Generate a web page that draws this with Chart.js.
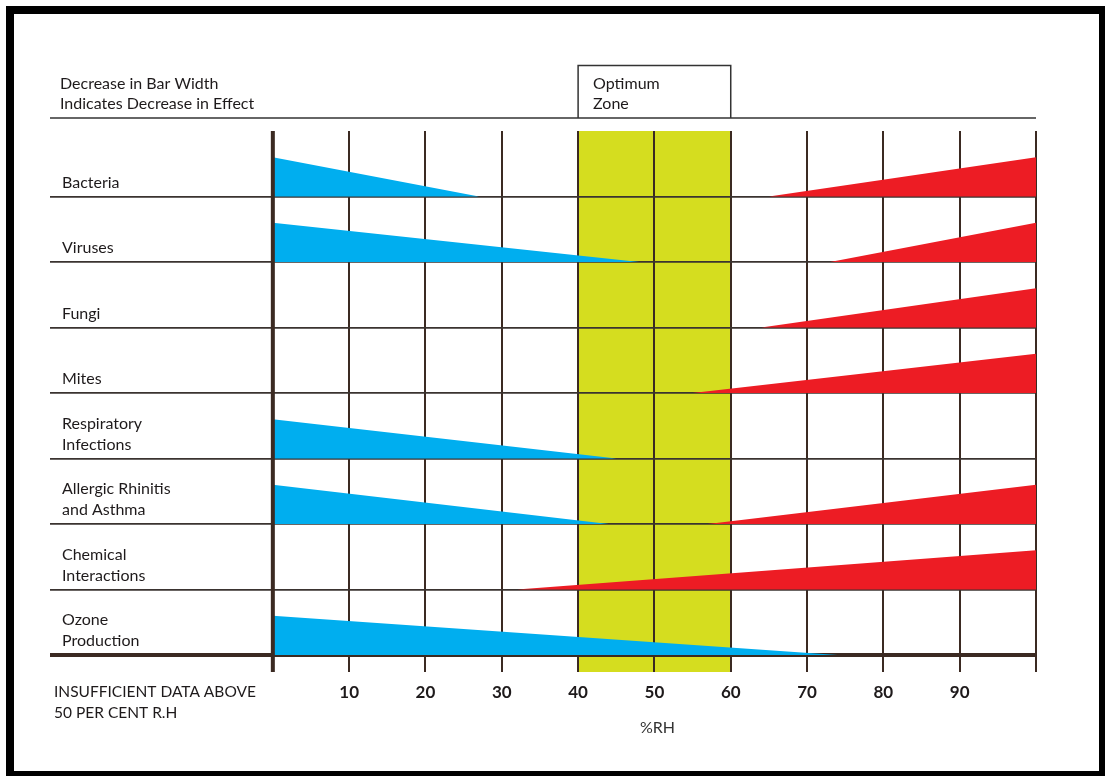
<!DOCTYPE html>
<html>
<head>
<meta charset="utf-8">
<script src="https://cdn.jsdelivr.net/npm/chart.js@4/dist/chart.umd.min.js"></script>
<style>
  html, body { margin: 0; padding: 0; background: #fff; }
  #wrap { position: relative; width: 1105px; height: 776px; }
  canvas { display: block; }
</style>
</head>
<body>
<div id="wrap"><canvas id="c" width="1105" height="776"></canvas></div>
<script>
// ---- data ----
const categories = ['Bacteria', 'Viruses', 'Fungi', 'Mites', 'Respiratory\nInfections',
  'Allergic Rhinitis\nand Asthma', 'Chemical\nInteractions', 'Ozone\nProduction'];
// RH (%) at which the low-humidity effect (blue) fades out
const lowEffectEnd = [27, 48, null, null, 45, 44, null, 74];
// RH (%) at which the high-humidity effect (red) begins
const highEffectStart = [65, 73, 64, 55, null, 57, 32, null];
const maxEffect = 0.6;           // full bar width, in row units
const tickValues = [0, 10, 20, 30, 40, 50, 60, 70, 80, 90, 100];
const tickLabels = ['', '10', '20', '30', '40', '50', '60', '70', '80', '90', ''];
const optimumZone = [40, 60];
const rowLines = [0, 1, 2, 3, 4, 5, 6, 7, 8];

const FONT = 'Lato, "Open Sans", sans-serif';
const INK = '#1e1a1b';
const GRID = '#3b2a22';
const BLUE = '#00aeef';
const RED = '#ed1c24';
const YELLOW = '#d5dd1f';

const nRows = categories.length;
const datasets = [];
categories.forEach((cat, i) => {
  const base = nRows - 1 - i;
  if (lowEffectEnd[i] != null) {
    datasets.push({
      label: cat + ' (low RH)',
      data: [{x: 0, y: base + maxEffect}, {x: lowEffectEnd[i], y: base}],
      backgroundColor: BLUE, borderWidth: 0, pointRadius: 0,
      fill: {value: base}, tension: 0
    });
  }
  if (highEffectStart[i] != null) {
    datasets.push({
      label: cat + ' (high RH)',
      data: [{x: highEffectStart[i], y: base}, {x: 100, y: base + maxEffect}],
      backgroundColor: RED, borderWidth: 0, pointRadius: 0,
      fill: {value: base}, tension: 0
    });
  }
});

const decor = {
  id: 'decor',
  beforeDraw(chart) {
    const {ctx, scales: {x, y}, chartArea: a} = chart;
    ctx.save();
    // optimum zone band
    const x0 = x.getPixelForValue(optimumZone[0]);
    const x1 = x.getPixelForValue(optimumZone[1]);
    ctx.fillStyle = YELLOW;
    ctx.fillRect(x0, a.top, x1 - x0, a.bottom - a.top + 17);
    // frame
    ctx.strokeStyle = '#000';
    ctx.lineWidth = 8;
    ctx.strokeRect(10, 10, 1093, 765);
    ctx.restore();
  },
  afterDatasetsDraw(chart) {
    const {ctx, scales: {x, y}, chartArea: a} = chart;
    ctx.save();
    // left axis line at 0 %RH
    const x0 = x.getPixelForValue(0);
    ctx.strokeStyle = GRID;
    ctx.lineWidth = 4;
    ctx.beginPath();
    ctx.moveTo(x0, a.top);
    ctx.lineTo(x0, a.bottom + 17);
    ctx.stroke();
    ctx.restore();
  },
  afterDraw(chart) {
    const {ctx, scales: {x, y}, chartArea: a} = chart;
    ctx.save();
    // header line
    const hy = y.getPixelForValue(8.2);
    ctx.strokeStyle = '#333';
    ctx.lineWidth = 1.5;
    ctx.beginPath();
    ctx.moveTo(a.left, hy);
    ctx.lineTo(a.right, hy);
    ctx.stroke();
    // optimum zone box
    const zx0 = x.getPixelForValue(optimumZone[0]);
    const zx1 = x.getPixelForValue(optimumZone[1]);
    const top = y.getPixelForValue(9);
    ctx.strokeStyle = '#333';
    ctx.lineWidth = 1.5;
    ctx.beginPath();
    ctx.moveTo(zx0, hy);
    ctx.lineTo(zx0, top);
    ctx.lineTo(zx1, top);
    ctx.lineTo(zx1, hy);
    ctx.stroke();

    ctx.fillStyle = INK;
    ctx.textBaseline = 'middle';
    ctx.textAlign = 'left';
    ctx.font = '16px ' + FONT;
    ctx.fillText('Decrease in Bar Width', 60, hy - 34);
    ctx.fillText('Indicates Decrease in Effect', 60, hy - 14);
    ctx.fillText('Optimum', zx0 + 15, hy - 34);
    ctx.fillText('Zone', zx0 + 15, hy - 14);

    // row labels
    categories.forEach((cat, i) => {
      const base = nRows - 1 - i;
      const lines = cat.split('\n');
      const by = y.getPixelForValue(base) - 14;
      lines.forEach((ln, k) => {
        ctx.fillText(ln, 62, by - (lines.length - 1 - k) * 21);
      });
    });

    // bottom-left note
    ctx.font = '15.5px ' + FONT;
    ctx.fillText('INSUFFICIENT DATA ABOVE', 54, 692);
    ctx.fillText('50 PER CENT R.H', 54, 713);

    // axis title
    ctx.textAlign = 'center';
    ctx.font = '16px ' + FONT;
    ctx.fillStyle = '#333';
    ctx.fillText('%RH', x.getPixelForValue(50) + 3, 728);
    ctx.restore();
  }
};

new Chart(document.getElementById('c'), {
  type: 'line',
  data: {datasets},
  plugins: [decor],
  options: {
    responsive: false,
    animation: false,
    devicePixelRatio: 1,
    layout: {padding: {left: 50, right: 69, top: 131, bottom: 0}},
    plugins: {legend: {display: false}, tooltip: {enabled: false}},
    elements: {line: {borderWidth: 0}},
    scales: {
      x: {
        type: 'linear',
        min: -29.2, max: 100,
        afterBuildTicks: s => { s.ticks = tickValues.map(v => ({value: v})); },
        afterFit: s => { s.height = 121; },
        border: {display: false},
        grid: {
          drawOnChartArea: true, drawTicks: true, tickLength: 17,
          color: c => (c.tick && c.tick.value === 0) ? 'rgba(0,0,0,0)' : GRID,
          lineWidth: 2
        },
        ticks: {
          autoSkip: false, maxRotation: 0, padding: 10,
          color: INK,
          font: {family: FONT, size: 17, weight: 'bold'},
          callback: (v, i) => tickLabels[tickValues.indexOf(v)] ?? ''
        }
      },
      y: {
        type: 'linear',
        min: 0, max: 8,
        z: 1,
        afterBuildTicks: s => { s.ticks = rowLines.map(v => ({value: v})); },
        afterFit: s => { s.width = 0; },
        border: {display: false},
        grid: {
          drawTicks: false,
          color: c => (c.tick && c.tick.value === 8) ? 'rgba(0,0,0,0)' : (c.tick && c.tick.value === 0 ? GRID : '#3a3330'),
          lineWidth: c => (c.tick && c.tick.value === 0) ? 4 : 1.8
        },
        ticks: {display: false}
      }
    }
  }
});
</script>
</body>
</html>
